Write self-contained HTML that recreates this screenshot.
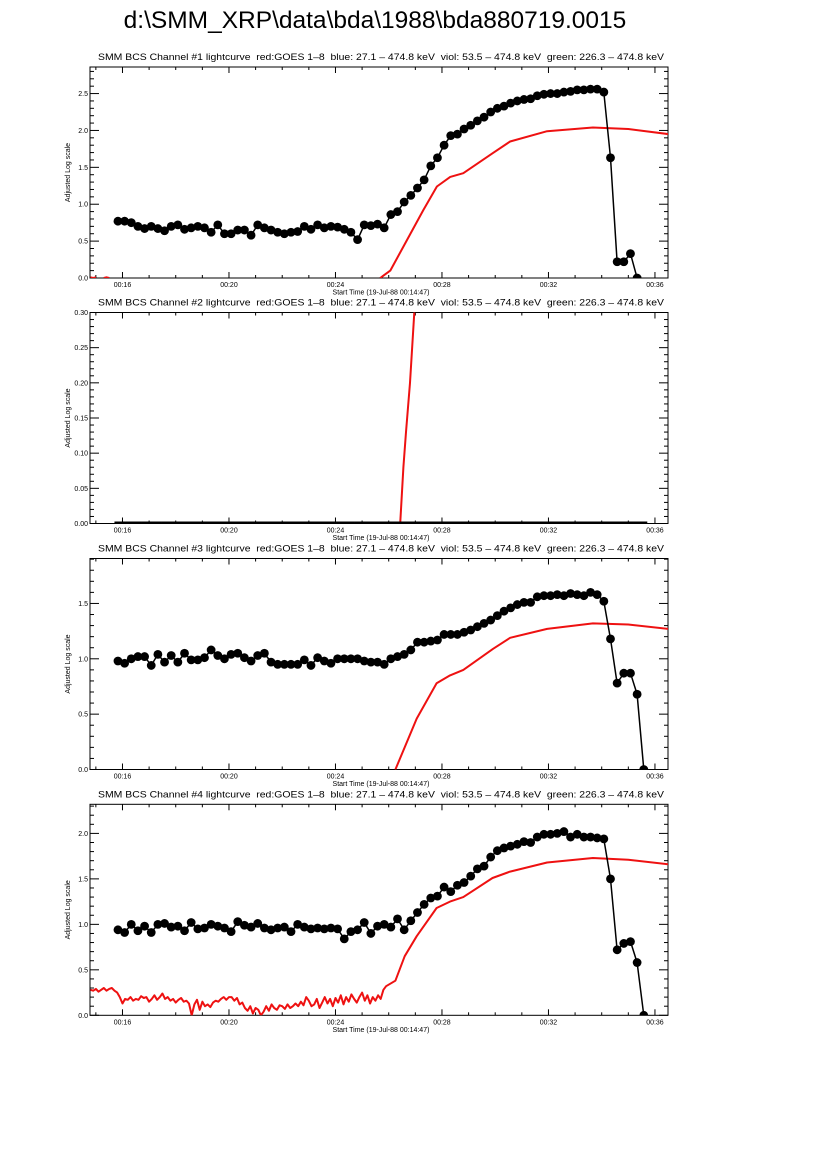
<!DOCTYPE html>
<html><head><meta charset="utf-8">
<style>
html,body{margin:0;padding:0;background:#fff;}
svg{display:block;font-family:"Liberation Sans",sans-serif;}
text{white-space:pre;}
</style></head>
<body>
<svg id="chart" width="826" height="1169" viewBox="0 0 826 1169">
<text x="375" y="28" font-size="24.5" text-anchor="middle">d:\SMM_XRP\data\bda\1988\bda880719.0015</text>
</svg>
<script>
// ---- data ----
const bcsStart = 15.83;          // minutes after 00:00 of first BCS sample
const bcsStep = 0.25;            // sample spacing (min)
const ch1Values = [0.77,0.77,0.75,0.70,0.67,0.70,0.67,0.64,0.70,0.72,0.66,0.68,0.70,0.68,0.62,0.72,0.60,0.60,0.65,0.65,0.58,0.72,0.68,0.65,0.62,0.60,0.62,0.63,0.70,0.66,0.72,0.68,0.70,0.69,0.66,0.62,0.52,0.72,0.71,0.73,0.68,0.86,0.90,1.03,1.12,1.22,1.33,1.52,1.63,1.80,1.93,1.95,2.02,2.07,2.13,2.18,2.25,2.30,2.33,2.37,2.40,2.42,2.43,2.47,2.49,2.50,2.50,2.52,2.53,2.55,2.55,2.56,2.56,2.52,1.63,0.22,0.22,0.33,0.0,null];
const ch2Values = [0,0,0,0,0,0,0,0,0,0,0,0,0,0,0,0,0,0,0,0,0,0,0,0,0,0,0,0,0,0,0,0,0,0,0,0,0,0,0,0,0,0,0,0,0,0,0,0,0,0,0,0,0,0,0,0,0,0,0,0,0,0,0,0,0,0,0,0,0,0,0,0,0,0,0,0,0,0,0,0];
const ch3Values = [0.98,0.96,1.00,1.02,1.02,0.94,1.04,0.97,1.03,0.97,1.05,0.99,0.99,1.01,1.08,1.03,1.00,1.04,1.05,1.01,0.98,1.03,1.05,0.97,0.95,0.95,0.95,0.95,0.99,0.94,1.01,0.98,0.96,1.00,1.00,1.00,1.00,0.98,0.97,0.97,0.95,1.00,1.02,1.04,1.08,1.15,1.15,1.16,1.17,1.22,1.22,1.22,1.24,1.26,1.29,1.32,1.35,1.39,1.43,1.46,1.49,1.51,1.51,1.56,1.57,1.57,1.58,1.57,1.59,1.58,1.57,1.60,1.58,1.52,1.18,0.78,0.87,0.87,0.68,0.0];
const ch4Values = [0.94,0.91,1.00,0.93,0.98,0.91,1.00,1.01,0.97,0.98,0.93,1.02,0.95,0.96,1.00,0.98,0.96,0.92,1.03,0.99,0.97,1.01,0.96,0.94,0.96,0.97,0.92,1.00,0.97,0.95,0.96,0.95,0.96,0.95,0.84,0.92,0.94,1.02,0.90,0.98,1.00,0.97,1.06,0.94,1.04,1.13,1.22,1.29,1.31,1.41,1.36,1.43,1.46,1.53,1.61,1.64,1.74,1.81,1.84,1.86,1.88,1.91,1.90,1.96,1.99,1.99,2.00,2.02,1.96,1.99,1.96,1.96,1.95,1.94,1.50,0.72,0.79,0.81,0.58,0.0];

const goes1T = [14.8,14.9,15.0,null,15.3,15.4,15.5,null,25.68,26.06,26.68,27.3,27.81,28.31,28.8,29.9,30.56,31.95,33.67,35.0,36.5];
const goes1V = [0.01,0.0,0.01,null,0.0,0.01,0.0,null,0.0,0.10,0.51,0.92,1.24,1.37,1.42,1.69,1.85,1.99,2.04,2.02,1.95];
const goes2T = [26.43,26.55,26.65,26.8,26.96,27.1];
const goes2V = [0.0,0.08,0.13,0.2,0.3,0.4];
const goes3T = [26.25,27.05,27.8,28.3,28.8,29.92,30.56,31.95,33.67,35.0,36.5];
const goes3V = [0.0,0.46,0.78,0.85,0.90,1.09,1.19,1.27,1.32,1.31,1.27];
const goes4NoiseStart = 14.8;
const goes4NoiseStep = 0.1;
const goes4NoiseV = [0.28,0.27,0.29,0.26,0.28,0.30,0.27,0.29,0.30,0.27,0.25,0.20,0.13,0.18,
0.17,0.20,0.16,0.18,0.17,0.21,0.19,0.20,0.15,0.18,0.22,0.17,0.20,0.24,
0.18,0.20,0.16,0.18,0.14,0.17,0.19,0.15,0.16,0.13,
0.0,0.12,0.17,0.06,0.15,
0.10,0.12,0.09,0.14,0.16,0.15,0.18,0.20,0.17,0.20,0.20,0.16,0.19,0.12,0.14,
0.08,0.05,0.10,0.02,0.08,0.06,0.0,0.04,0.10,0.05,
0.12,0.08,0.06,0.11,0.10,0.07,0.12,0.08,0.10,0.13,
0.10,0.15,0.11,0.20,0.16,0.10,0.12,0.18,0.08,0.14,
0.20,0.13,0.18,0.10,0.19,0.14,0.22,0.12,0.20,0.15,
0.23,0.18,0.14,0.20,0.25,0.16,0.22,0.13,0.20,0.16,
0.22,0.18,0.28,0.32];
const goes4T = [26.25,26.6,27.05,27.8,28.3,28.8,29.9,30.56,31.95,33.67,35.0,36.5];
const goes4V = [0.38,0.65,0.87,1.18,1.25,1.30,1.51,1.58,1.68,1.73,1.71,1.66];

const xTickLabels = ["00:16","00:20","00:24","00:28","00:32","00:36"];
const xTickMinutes = [16,20,24,28,32,36];
const yMaxes = [2.86,0.30,1.906,2.32];
const yTickLabels1 = ["0.0","0.5","1.0","1.5","2.0","2.5"];
const yTickLabels2 = ["0.00","0.05","0.10","0.15","0.20","0.25","0.30"];
const yTickLabels3 = ["0.0","0.5","1.0","1.5"];
const yTickLabels4 = ["0.0","0.5","1.0","1.5","2.0"];

// ---- drawing ----
const NS = "http://www.w3.org/2000/svg";
const svg = document.getElementById("chart");
const X0 = 90, X1 = 668, T0 = 14.78, T1 = 36.49;
const xScale = t => X0 + (t - T0) / (T1 - T0) * (X1 - X0);
function mk(tag, attrs, parent){const e=document.createElementNS(NS,tag);for(const k in attrs)e.setAttribute(k,attrs[k]);(parent||svg).appendChild(e);return e;}

const tops = [67, 312.5, 558.5, 804.3];
const H = 211;
const yLabelSets = [yTickLabels1,yTickLabels2,yTickLabels3,yTickLabels4];
const majors = [0.5,0.05,0.5,0.5];
const minors = [0.1,0.01,0.1,0.1];
const bcsSets = [ch1Values,ch2Values,ch3Values,ch4Values];
const RED = "#ee1111";

for (let p=0;p<4;p++){
  const top=tops[p], bot=top+H, ymax=yMaxes[p];
  const yScale = v => bot - v/ymax*H;
  const g = mk("g",{});
  
  
  const clipId="clip"+p;
  const cp=mk("clipPath",{id:clipId},g); mk("rect",{x:X0,y:top,width:X1-X0,height:H},cp);

  const title=mk("text",{x:381,y:top-7,"font-size":"9.4","text-anchor":"middle","textLength":"566","lengthAdjust":"spacingAndGlyphs"},g);
  title.textContent="SMM BCS Channel #"+(p+1)+" lightcurve  red:GOES 1\u20138  blue: 27.1 \u2013 474.8 keV  viol: 53.5 \u2013 474.8 keV  green: 226.3 \u2013 474.8 keV";
  
  

  const frame=mk("rect",{x:X0,y:top,width:X1-X0,height:H,fill:"none",stroke:"#000","stroke-width":"1"},g);
  
  

  for (let m=15;m<=36;m++){
    const x=xScale(m), len=(m%4===0)?6:3;
    mk("line",{x1:x,x2:x,y1:bot,y2:bot-len,stroke:"#000","stroke-width":"1"},g);
    mk("line",{x1:x,x2:x,y1:top,y2:top+len,stroke:"#000","stroke-width":"1"},g);
  }
  xTickMinutes.forEach((m,i)=>{
    const t=mk("text",{x:xScale(m),y:bot+9,"font-size":"7","text-anchor":"middle"},g);
    t.textContent=xTickLabels[i];
    
    
  });
  const xl=mk("text",{x:381,y:bot+16.5,"font-size":"7","text-anchor":"middle"},g);
  xl.textContent="Start Time (19-Jul-88 00:14:47)";
  
  

  const nMin=Math.floor(ymax/minors[p]+1e-6);
  for (let k=0;k<=nMin;k++){
    const v=k*minors[p], y=yScale(v);
    const isMaj=Math.abs(v/majors[p]-Math.round(v/majors[p]))<1e-6;
    const len=isMaj?9:4;
    mk("line",{x1:X0,x2:X0+len,y1:y,y2:y,stroke:"#000","stroke-width":"1"},g);
    mk("line",{x1:X1,x2:X1-len,y1:y,y2:y,stroke:"#000","stroke-width":"1"},g);
  }
  yLabelSets[p].forEach(lbl=>{
    const v=parseFloat(lbl);
    const t=mk("text",{x:X0-2,y:yScale(v)+2.5,"font-size":"7","text-anchor":"end"},g);
    t.textContent=lbl;
    
    
  });
  const yl=mk("text",{x:0,y:0,"font-size":"7","text-anchor":"middle",transform:"translate(70,"+(top+H/2)+") rotate(-90)"},g);
  yl.textContent="Adjusted Log scale";
  
  

  const data=mk("g",{"clip-path":"url(#"+clipId+")"},g);
  function redPath(T,V){
    let d="",pen=false;
    for(let i=0;i<T.length;i++){
      if(T[i]===null||V[i]===null){pen=false;continue;}
      d+=(pen?"L":"M")+xScale(T[i]).toFixed(1)+" "+yScale(V[i]).toFixed(1)+" ";pen=true;
    }
    return d;
  }
  let gT,gV;
  if(p===0){gT=goes1T;gV=goes1V;}
  else if(p===1){gT=goes2T;gV=goes2V;}
  else if(p===2){gT=goes3T;gV=goes3V;}
  else{
    gT=goes4NoiseV.map((v,i)=>goes4NoiseStart+i*goes4NoiseStep).concat(goes4T);
    gV=goes4NoiseV.concat(goes4V);
  }
  const red=mk("path",{d:redPath(gT,gV),fill:"none",stroke:RED,"stroke-width":"2","stroke-linejoin":"round"},data);
  
  

  const vals=bcsSets[p];
  let d="",pen=false;
  vals.forEach((v,i)=>{ if(v===null){pen=false;return;} d+=(pen?"L":"M")+xScale(bcsStart+i*bcsStep).toFixed(1)+" "+yScale(v).toFixed(1)+" ";pen=true;});
  const bl=mk("path",{d:d,fill:"none",stroke:"#000","stroke-width":"1.5"},data);
  
  
  vals.forEach((v,i)=>{
    if(v===null)return;
    if(p===1){
      const c=mk("rect",{x:xScale(bcsStart+i*bcsStep)-3.5,y:yScale(v)-2,width:7,height:3,fill:"#000"},data);
      
      
    } else {
      const c=mk("circle",{cx:xScale(bcsStart+i*bcsStep),cy:yScale(v),r:4.4,fill:"#000"},data);
      
      
    }
  });
}
</script>
</body></html>
